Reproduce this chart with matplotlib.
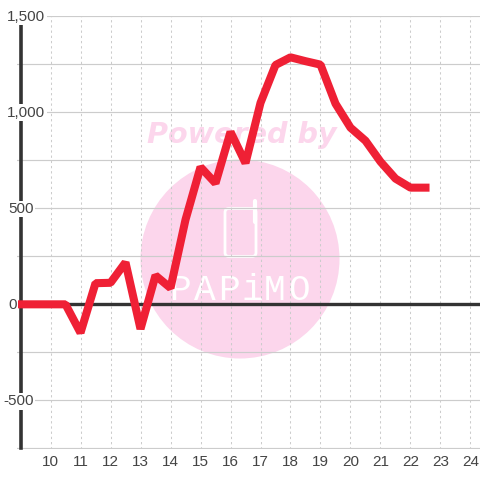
import matplotlib
matplotlib.use("Agg")
import matplotlib.pyplot as plt
from matplotlib.patches import Circle, FancyBboxPatch
from matplotlib.lines import Line2D

plt.rcParams['font.family'] = ['Liberation Sans', 'DejaVu Sans']

hours = [8.5, 9, 9.5, 10, 10.5, 11, 11.5, 12, 12.5, 13, 13.5, 14, 14.5, 15, 15.5, 16, 16.5,
         17, 17.5, 18, 18.5, 19, 19.5, 20, 20.5, 21, 21.5, 22, 22.5]
values = [0, 0, 0, 0, 0, -148, 110, 112, 218, -128, 150, 85, 440, 714, 630, 897, 735,
          1048, 1245, 1285, 1265, 1247, 1044, 919, 851, 742, 654, 607, 607]
x_ticks = list(range(10, 25))
y_grid = [-750, -500, -250, 0, 250, 500, 750, 1000, 1250, 1500]
y_labels = {1500: '1,500', 1000: '1,000', 500: '500', 0: '0', -500: '-500'}

PINK = '#fcd6ec'
GRID = '#cccccc'
DARK = '#333333'
RED = '#ef2035'
TEXT = '#444444'

W = 480.0
def fx(x): return x / W
def fy(y): return 1 - y / W

fig = plt.figure(figsize=(4.8, 4.8), dpi=100)
ax = fig.add_axes([fx(17), fy(448.5), fx(480) - fx(17), fy(16) - fy(448.5)])
ax.set_facecolor('none')
ax.set_xlim(10 + (17 - 50.5) / 30, 10 + (480 - 50.5) / 30)
ax.set_ylim(-750, 1500)

# watermark, behind the axes
tf = fig.transFigure
fig.add_artist(Circle((fx(240), fy(259)), 99.5 / W, transform=tf, fc=PINK, ec='none', zorder=-5))
fig.text(fx(242), fy(135), 'Powered by', family='DejaVu Sans', weight='bold', style='oblique',
         fontsize=20.6, color=PINK, ha='center', va='center', zorder=-5)
fig.add_artist(FancyBboxPatch((fx(225), fy(256.5)), 31 / W, 48 / W, boxstyle=f'round,pad=0,rounding_size={4 / W}',
                              transform=tf, fc='none', ec='white', lw=2, zorder=-4))
fig.add_artist(Line2D([fx(255), fx(255)], [fy(201), fy(222)], transform=tf, color='white', lw=3,
                      solid_capstyle='round', zorder=-4))
for ch, px in zip('PAPiMO', [180, 205, 229, 252, 275, 299]):
    fig.text(fx(px), fy(290), ch, family='Liberation Mono', fontsize=26, color='white',
             ha='center', va='center', zorder=-4)

ax.set_xticks(x_ticks)
ax.set_yticks(y_grid)
ax.tick_params(length=0)
ax.set_yticklabels([])
ax.set_xticklabels([str(t) for t in x_ticks], fontsize=11, color=TEXT)
ax.tick_params(axis='x', pad=5)
ax.set_axisbelow(True)
ax.grid(axis='y', color=GRID, lw=0.85, zorder=1)
ax.grid(axis='x', color=GRID, lw=0.75, ls=(0, (2.2, 2.8)), zorder=1)
for name in ('top', 'right', 'bottom'):
    ax.spines[name].set_visible(False)
ax.spines['left'].set_position(('data', 9))
ax.spines['left'].set_linewidth(2.6)
ax.spines['left'].set_color(DARK)
ax.spines['left'].set_zorder(3)

ax.axhline(0, xmin=(9 - ax.get_xlim()[0]) / (ax.get_xlim()[1] - ax.get_xlim()[0]), color=DARK, lw=2.4, zorder=3)
ax.plot(hours, values, color=RED, lw=5.8, solid_joinstyle='bevel', solid_capstyle='projecting', zorder=4)

for v, s in y_labels.items():
    left = 3 if v < 0 else (7 if v >= 1000 else 8)
    ax.annotate(s, xy=(0, v), xycoords=('axes fraction', 'data'),
                xytext=((left - 17) * 0.72, -0.5), textcoords='offset points',
                ha='left', va='center', fontsize=11, color=TEXT, zorder=5, annotation_clip=False,
                bbox=dict(fc='white', ec='none', pad=1.0))

fig.savefig('out.png', dpi=100, facecolor='white')
